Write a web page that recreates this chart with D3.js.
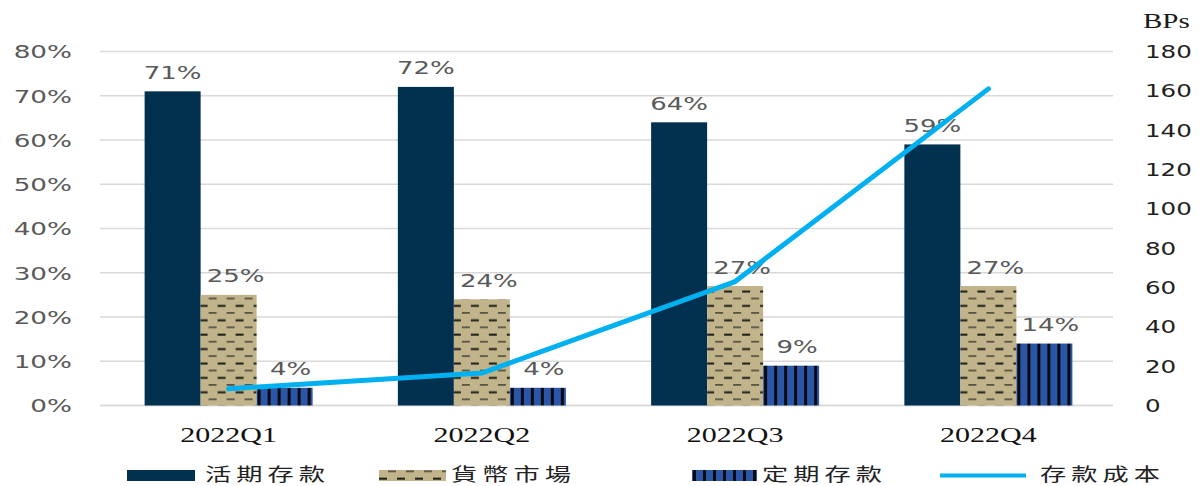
<!DOCTYPE html>
<html><head><meta charset="utf-8">
<script src="https://cdn.jsdelivr.net/npm/d3@7"></script>
<style>body{margin:0;background:#fff;}svg{display:block;}</style>
</head><body>
<svg id="c" width="1199" height="486"></svg>
<script>
const categories = ["2022Q1","2022Q2","2022Q3","2022Q4"];
const seriesNames = ["活期存款","貨幣市場","定期存款"];
const demand = [71,72,64,59];
const moneyMarket = [25,24,27,27];
const timeDep = [4,4,9,14];
const costBps = [8.5,16.5,63,161];
const lineName = "存款成本";
const leftTicks = [0,10,20,30,40,50,60,70,80];
const rightTicks = [0,20,40,60,80,100,120,140,160,180];

const svg = d3.select("#c");
const defs = svg.append("defs");
const pTan = defs.append("pattern").attr("id","pTan").attr("patternUnits","userSpaceOnUse")
  .attr("width",18).attr("height",14.4);
pTan.append("rect").attr("width",18).attr("height",14.4).attr("fill","#C1B48A");
pTan.append("rect").attr("x",1).attr("y",2.5).attr("width",8).attr("height",2).attr("fill","#1c1c18");
pTan.append("rect").attr("x",10).attr("y",9.7).attr("width",8).attr("height",1.6).attr("fill","#4d4a3c");
const pBlue = defs.append("pattern").attr("id","pBlue").attr("patternUnits","userSpaceOnUse")
  .attr("width",10).attr("height",10);
pBlue.append("rect").attr("width",10).attr("height",10).attr("fill","#2B55A6");
pBlue.append("rect").attr("x",3).attr("width",3).attr("height",10).attr("fill","#0a0a12");

const colors = ["#02304F","url(#pTan)","url(#pBlue)"];
const SX = 1.42;

const x0 = d3.scaleBand().domain(categories).range([102,1115]).paddingInner(0.3366).paddingOuter(0.1683);
const x1 = d3.scaleBand().domain(seriesNames).range([0,x0.bandwidth()]).padding(0);
const yL = d3.scaleLinear().domain([0,80]).range([405.5,51.5]);
const yR = d3.scaleLinear().domain([0,180]).range([405.5,51.5]);

svg.append("g").selectAll("line").data(leftTicks).join("line")
  .attr("x1",100).attr("x2",1113).attr("y1",d=>yL(d)).attr("y2",d=>yL(d))
  .attr("stroke","#D9D9D9").attr("stroke-width",1.5);

const gl = svg.append("g").attr("transform","translate(100,0)")
  .call(d3.axisLeft(yL).tickValues(leftTicks).tickSize(0).tickFormat(d=>d+"%"));
gl.select(".domain").remove();
gl.selectAll("text").attr("x",0).attr("dy","0.35em")
  .attr("transform",`translate(-28,0) scale(${SX},1)`)
  .attr("font-family","DejaVu Sans").attr("font-size",18.5).attr("fill","#595959");

const gr = svg.append("g").attr("transform","translate(1113,0)")
  .call(d3.axisRight(yR).tickValues(rightTicks).tickSize(0));
gr.select(".domain").remove();
gr.selectAll("text").attr("x",0).attr("dy","0.35em")
  .attr("transform",`translate(32,0) scale(${SX},1)`)
  .attr("font-family","DejaVu Sans").attr("font-size",17.3).attr("fill","#1f1f1f");
svg.append("text").attr("transform",`translate(1143,28) scale(1.45,1)`)
  .attr("font-family","Liberation Serif").attr("font-size",20).attr("fill","#1a1a1a").text("BPs");

const gb = svg.append("g").attr("transform","translate(0,405.5)")
  .call(d3.axisBottom(x0).tickSize(0));
gb.select(".domain").attr("stroke","#D9D9D9").attr("stroke-width",1.5).attr("d","M100,0H1113");
gb.selectAll("text").attr("y",0).attr("dy",0)
  .attr("transform",`translate(0,36.5) scale(1.5,1)`)
  .attr("font-family","Liberation Serif").attr("font-size",20).attr("fill","#111");

const data = categories.map((c,i)=>({c, vals:[demand[i],moneyMarket[i],timeDep[i]]}));
const grp = svg.append("g").selectAll("g").data(data).join("g")
  .attr("transform",d=>`translate(${x0(d.c)},0)`);
grp.selectAll("rect").data(d=>d.vals.map((v,j)=>({v,s:seriesNames[j],j}))).join("rect")
  .attr("x",d=>x1(d.s)).attr("width",x1.bandwidth())
  .attr("y",d=>yL(d.v)).attr("height",d=>yL(0)-yL(d.v))
  .attr("fill",d=>colors[d.j]);
const offs = [0,7,6];
grp.selectAll("text").data(d=>d.vals.map((v,j)=>({v,s:seriesNames[j],j}))).join("text")
  .attr("transform",d=>`translate(${x1(d.s)+x1.bandwidth()/2+offs[d.j]},${yL(d.v)-12.5}) scale(${SX},1)`)
  .attr("text-anchor","middle").attr("font-family","DejaVu Sans").attr("font-size",18.3)
  .attr("fill","#595959").text(d=>d.v+"%");

const line = d3.line().x((d,i)=>x0(categories[i])+x0.bandwidth()/2).y(d=>yR(d));
svg.append("path").datum(costBps).attr("d",line).attr("fill","none")
  .attr("stroke","#00B0F0").attr("stroke-width",5).attr("stroke-linecap","round").attr("stroke-linejoin","round");

const leg = svg.append("g");
const legItems = [
  {name:seriesNames[0], fill:colors[0], sx:127, sw:68, tx:205},
  {name:seriesNames[1], fill:colors[1], sx:379, sw:67, tx:451},
  {name:seriesNames[2], fill:colors[2], sx:692, sw:65, tx:762},
];
legItems.forEach(it=>{
  leg.append("rect").attr("x",it.sx).attr("y",470).attr("width",it.sw).attr("height",11).attr("fill",it.fill);
  leg.append("text").attr("transform",`translate(${it.tx},480.5) scale(${SX},1)`)
    .attr("font-family","Noto Sans CJK TC").attr("font-size",18.5).attr("letter-spacing",3.5)
    .attr("fill","#222").text(it.name);
});
leg.append("line").attr("x1",940).attr("x2",1026).attr("y1",475.5).attr("y2",475.5)
  .attr("stroke","#00B0F0").attr("stroke-width",4);
leg.append("text").attr("transform",`translate(1040,480.5) scale(${SX},1)`)
  .attr("font-family","Noto Sans CJK TC").attr("font-size",18.5).attr("letter-spacing",3.5)
  .attr("fill","#222").text(lineName);
</script>
</body></html>
